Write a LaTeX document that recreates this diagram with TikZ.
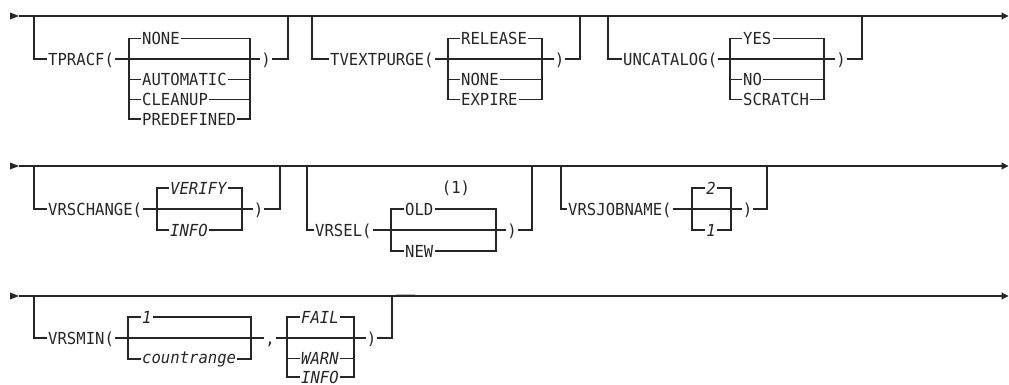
\documentclass[tikz,border=0pt]{standalone}
\usepackage{fontspec}
\usetikzlibrary{arrows.meta}
\newfontfamily\rrfont[FakeStretch=0.94]{DejaVu Sans Mono}
\definecolor{ink}{gray}{0.15}
\tikzset{
  rr/.style={draw=ink, line width=1.1pt},
  kw/.style={inner xsep=1pt, inner ysep=0pt, anchor=west, text=ink,
    font=\rrfont\fontsize{16.6pt}{18pt}\selectfont, text height=12.1pt, text depth=0pt},
  var/.style={kw, font=\rrfont\itshape\fontsize{16.6pt}{18pt}\selectfont},
  ctr/.style={anchor=center},
  lc/.style={text height=9pt},
  endtip/.style={rr, -{Triangle[length=7pt,width=7pt]}},
}
\begin{document}
\begin{tikzpicture}[x=1pt,y=-1pt]
\useasboundingbox (0,0) rectangle (1009,385);

% ---------------- row 1 ----------------
\coordinate (s1) at (19,16);
\coordinate (e1) at (1008.5,16);
\fill[ink] (s1) -- ++(-9,-3.5) -- ++(0,7) -- cycle;
\draw[endtip] (s1) -- (e1);

% TPRACF
\coordinate (tp0) at (34,16);
\coordinate (tp1) at (34,59);
\node[kw] (tp) at (47,59) {TPRACF(};
\coordinate (tpL) at (129,38.5);
\coordinate (tpLb) at (129,119);
\coordinate (tpR) at (250,38.5);
\coordinate (tpRb) at (250,119);
\node[kw] (tpa) at (141,38.5) {NONE};
\node[kw] (tpb) at (141,79.5) {AUTOMATIC};
\node[kw] (tpc) at (141,99.5) {CLEANUP};
\node[kw] (tpd) at (141,119) {PREDEFINED};
\node[kw,ctr] (tpx) at (266,59) {)};
\coordinate (tp2) at (288,59);
\coordinate (tp3) at (288,16);
\draw[rr] (tp0) -- (tp1) -- (tp.west);
\draw[rr] (tp.east) -- (tpx.west);
\draw[rr] (tpx.east) -- (tp2) -- (tp3);
\draw[rr] (tpa.west) -- (tpL) -- (tpLb) -- (tpd.west);
\draw[rr] (tpa.east) -- (tpR) -- (tpRb) -- (tpd.east);
\draw[rr] (tpb.west -| tpL) -- (tpb.west) (tpb.east) -- (tpb.east -| tpR);
\draw[rr] (tpc.west -| tpL) -- (tpc.west) (tpc.east) -- (tpc.east -| tpR);

% TVEXTPURGE
\coordinate (tv0) at (312,16);
\coordinate (tv1) at (312,59);
\node[kw] (tv) at (329,59) {TVEXTPURGE(};
\coordinate (tvL) at (448,38.5);
\coordinate (tvLb) at (448,99.5);
\coordinate (tvR) at (542,38.5);
\coordinate (tvRb) at (542,99.5);
\node[kw] (tva) at (460,38.5) {RELEASE};
\node[kw] (tvb) at (460,79.5) {NONE};
\node[kw] (tvc) at (460,99.5) {EXPIRE};
\node[kw,ctr] (tvx) at (559.5,59) {)};
\coordinate (tv2) at (580,59);
\coordinate (tv3) at (580,16);
\draw[rr] (tv0) -- (tv1) -- (tv.west);
\draw[rr] (tv.east) -- (tvx.west);
\draw[rr] (tvx.east) -- (tv2) -- (tv3);
\draw[rr] (tva.west) -- (tvL) -- (tvLb) -- (tvc.west);
\draw[rr] (tva.east) -- (tvR) -- (tvRb) -- (tvc.east);
\draw[rr] (tvb.west -| tvL) -- (tvb.west) (tvb.east) -- (tvb.east -| tvR);

% UNCATALOG
\coordinate (un0) at (608,16);
\coordinate (un1) at (608,59);
\node[kw] (un) at (622,59) {UNCATALOG(};
\coordinate (unL) at (730,38.5);
\coordinate (unLb) at (730,99.5);
\coordinate (unR) at (824,38.5);
\coordinate (unRb) at (824,99.5);
\node[kw] (una) at (742,38.5) {YES};
\node[kw] (unb) at (742,79.5) {NO};
\node[kw] (unc) at (742,99.5) {SCRATCH};
\node[kw,ctr] (unx) at (841,59) {)};
\coordinate (un2) at (862,59);
\coordinate (un3) at (862,16);
\draw[rr] (un0) -- (un1) -- (un.west);
\draw[rr] (un.east) -- (unx.west);
\draw[rr] (unx.east) -- (un2) -- (un3);
\draw[rr] (una.west) -- (unL) -- (unLb) -- (unc.west);
\draw[rr] (una.east) -- (unR) -- (unRb) -- (unc.east);
\draw[rr] (unb.west -| unL) -- (unb.west) (unb.east) -- (unb.east -| unR);

% ---------------- row 2 ----------------
\coordinate (s2) at (19,166);
\coordinate (e2) at (1008.5,166);
\fill[ink] (s2) -- ++(-9,-3.5) -- ++(0,7) -- cycle;
\draw[endtip] (s2) -- (e2);

% VRSCHANGE
\coordinate (vc0) at (34,166);
\coordinate (vc1) at (34,209);
\node[kw] (vc) at (47,209) {VRSCHANGE(};
\coordinate (vcL) at (157,188);
\coordinate (vcLb) at (157,230);
\coordinate (vcR) at (242,188);
\coordinate (vcRb) at (242,230);
\node[var] (vca) at (169,188) {VERIFY};
\node[var] (vcb) at (169,230) {INFO};
\node[kw,ctr] (vcx) at (258.5,209) {)};
\coordinate (vc2) at (280,209);
\coordinate (vc3) at (280,166);
\draw[rr] (vc0) -- (vc1) -- (vc.west);
\draw[rr] (vc.east) -- (vcx.west);
\draw[rr] (vcx.east) -- (vc2) -- (vc3);
\draw[rr] (vca.west) -- (vcL) -- (vcLb) -- (vcb.west);
\draw[rr] (vca.east) -- (vcR) -- (vcRb) -- (vcb.east);

% VRSEL
\coordinate (vs0) at (307,166);
\coordinate (vs1) at (307,230);
\node[kw] (vs) at (314,230) {VRSEL(};
\coordinate (vsL) at (391,209);
\coordinate (vsLb) at (391,251);
\coordinate (vsR) at (496,209);
\coordinate (vsRb) at (496,251);
\node[kw] (vsa) at (404,209) {OLD};
\node[kw] (vsb) at (404,251) {NEW};
\node[kw,ctr] (vsn) at (456,187) {(1)};
\node[kw,ctr] (vsx) at (512,230) {)};
\coordinate (vs2) at (532,230);
\coordinate (vs3) at (532,166);
\draw[rr] (vs0) -- (vs1) -- (vs.west);
\draw[rr] (vs.east) -- (vsx.west);
\draw[rr] (vsx.east) -- (vs2) -- (vs3);
\draw[rr] (vsa.west) -- (vsL) -- (vsLb) -- (vsb.west);
\draw[rr] (vsa.east) -- (vsR) -- (vsRb) -- (vsb.east);

% VRSJOBNAME
\coordinate (vj0) at (561,166);
\coordinate (vj1) at (561,209);
\node[kw] (vj) at (567,209) {VRSJOBNAME(};
\coordinate (vjL) at (692,188);
\coordinate (vjLb) at (692,230);
\coordinate (vjR) at (731,188);
\coordinate (vjRb) at (731,230);
\node[var,ctr] (vja) at (711,188) {2};
\node[var,ctr] (vjb) at (711,230) {1};
\node[kw,ctr] (vjx) at (747.5,209) {)};
\coordinate (vj2) at (767,209);
\coordinate (vj3) at (767,166);
\draw[rr] (vj0) -- (vj1) -- (vj.west);
\draw[rr] (vj.east) -- (vjx.west);
\draw[rr] (vjx.east) -- (vj2) -- (vj3);
\draw[rr] (vja.west) -- (vjL) -- (vjLb) -- (vjb.west);
\draw[rr] (vja.east) -- (vjR) -- (vjRb) -- (vjb.east);

% ---------------- row 3 ----------------
\coordinate (s3) at (19,296);
\coordinate (e3) at (1008.5,296);
\fill[ink] (s3) -- ++(-9,-3.5) -- ++(0,7) -- cycle;
\draw[endtip] (s3) -- (e3);

% VRSMIN
\coordinate (vm0) at (34,296);
\coordinate (vm1) at (34,338);
\node[kw] (vm) at (47,338) {VRSMIN(};
\coordinate (vmL) at (128,317);
\coordinate (vmLb) at (128,359);
\coordinate (vmR) at (251,317);
\coordinate (vmRb) at (251,359);
\node[var] (vma) at (141,317) {1};
\node[var,lc] (vmb) at (141,359) {countrange};
\node[kw,ctr] (vmk) at (270,338) {,};
\coordinate (vnL) at (287,317);
\coordinate (vnLb) at (287,377);
\coordinate (vnR) at (354,317);
\coordinate (vnRb) at (354,377);
\node[var] (vna) at (300,317) {FAIL};
\node[var] (vnb) at (300,358.5) {WARN};
\node[var] (vnc) at (300,377) {INFO};
\node[kw,ctr] (vmx) at (371.5,338) {)};
\coordinate (vm2) at (392,338);
\coordinate (vm3) at (392,296);
\draw[rr] (vm0) -- (vm1) -- (vm.west);
\draw[rr] (vm.east) -- (vmk.west);
\draw[rr] (vmk.east) -- (vmx.west);
\draw[rr] (vmx.east) -- (vm2) -- (vm3);
\draw[rr] (vma.west) -- (vmL) -- (vmLb) -- (vmb.west);
\draw[rr] (vma.east) -- (vmR) -- (vmRb) -- (vmb.east);
\draw[rr] (vna.west) -- (vnL) -- (vnLb) -- (vnc.west);
\draw[rr] (vna.east) -- (vnR) -- (vnRb) -- (vnc.east);
\draw[rr] (vnb.west -| vnL) -- (vnb.west) (vnb.east) -- (vnb.east -| vnR);

% faint mark above the row-3 main line
\coordinate (g1) at (396,294.3);
\coordinate (g2) at (415,294.3);
\draw[gray!55, line width=1.3pt] (g1) -- (g2);
\end{tikzpicture}
\end{document}
